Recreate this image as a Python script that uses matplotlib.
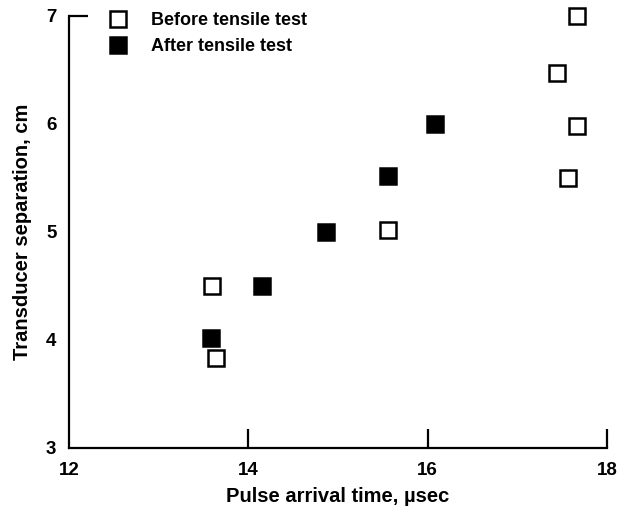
import matplotlib
matplotlib.use("Agg")
import matplotlib.pyplot as plt

# Data
before_x = [13.60, 13.64, 15.56, 17.66, 17.44, 17.66, 17.57]
before_y = [4.50, 3.83, 5.02, 7.00, 6.47, 5.98, 5.50]
after_x = [13.58, 14.15, 14.87, 15.56, 16.08]
after_y = [4.02, 4.50, 5.00, 5.52, 6.00]
x_ticks = [12, 14, 16, 18]
y_ticks = [3, 4, 5, 6, 7]
series_labels = ["Before tensile test", "After tensile test"]
x_label = "Pulse arrival time, \u00b5sec"
y_label = "Transducer separation, cm"

plt.rcParams['font.family'] = ['Liberation Sans', 'DejaVu Sans']
plt.rcParams['font.weight'] = 'bold'

fig = plt.figure(figsize=(6.21, 5.12), dpi=100)
ax = fig.add_axes([69/621, 1-448/512, (607-69)/621, (448-16)/512])

ms = 11.5
ax.plot(before_x, before_y, linestyle='none', marker='s', markersize=ms,
        markerfacecolor='white', markeredgecolor='black', markeredgewidth=1.8,
        clip_on=False, label=series_labels[0])
ax.plot(after_x, after_y, linestyle='none', marker='s', markersize=ms,
        markerfacecolor='black', markeredgecolor='black', markeredgewidth=1.8,
        clip_on=False, label=series_labels[1])

ax.set_xlim(12, 18)
ax.set_ylim(3, 7)
ax.set_xticks(x_ticks)
ax.set_yticks(y_ticks)
ax.set_xticklabels([str(v) for v in x_ticks], fontsize=13.5, fontweight='bold')
ax.set_yticklabels([str(v) for v in y_ticks], fontsize=13.5, fontweight='bold')

for s in ['top', 'right']:
    ax.spines[s].set_visible(False)
for s in ['left', 'bottom']:
    ax.spines[s].set_linewidth(1.6)

ax.tick_params(axis='x', direction='in', length=14, width=1.6, pad=10)
ax.tick_params(axis='y', direction='in', length=14, width=1.6, pad=9)
for t, v in zip(ax.yaxis.get_major_ticks(), y_ticks):
    t.tick1line.set_visible(v == y_ticks[-1])
for t, v in zip(ax.xaxis.get_major_ticks(), x_ticks):
    t.tick1line.set_visible(v != x_ticks[0])

ax.set_xlabel(x_label, fontsize=14.5, fontweight='bold', labelpad=6)
ax.set_ylabel(y_label, fontsize=14.5, fontweight='bold', labelpad=10)

leg = ax.legend(loc='upper left', bbox_to_anchor=(109/621, 1-12/512),
                bbox_transform=fig.transFigure, frameon=False,
                handlelength=1.0, handletextpad=1.35,
                borderpad=0, borderaxespad=0, labelspacing=0.5,
                prop={'weight': 'bold', 'size': 13})

fig.savefig("out.png", dpi=100)
